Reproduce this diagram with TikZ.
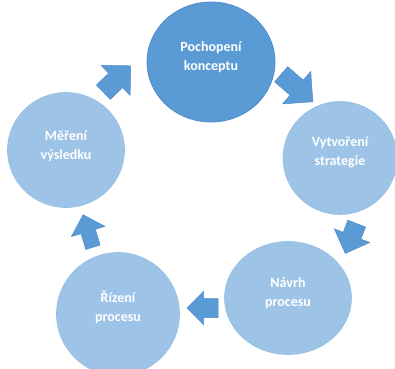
\documentclass[tikz,border=0pt]{standalone}
\usepackage{fontspec}
\setmainfont{Carlito}
\usetikzlibrary{shapes.geometric}

\definecolor{darkblue}{HTML}{5B9BD5}
\definecolor{darkrim}{HTML}{4F8CC9}
\definecolor{lightblue}{HTML}{9DC3E6}
\definecolor{lightrim}{HTML}{97BFE3}

\tikzset{
  stage/.style={ellipse, inner sep=0pt, fill=lightblue, draw=lightrim, line width=0.6pt},
  keystage/.style={stage, fill=darkblue, draw=darkrim, line width=0.8pt},
  caption/.style={text=white, align=center, font=\fontsize{14}{19}\selectfont\bfseries},
  flowarrow/.style={fill=darkblue, draw=darkrim, line width=0.5pt, line join=miter},
  % block arrow: length, shaft half-width, head half-width (head length = head half-width)
  pics/blockarrow/.style n args={3}{code={
    \path[flowarrow] (-#1/2,-#2) -- (#1/2-#3,-#2) -- (#1/2-#3,-#3) -- (#1/2,0)
      -- (#1/2-#3,#3) -- (#1/2-#3,#2) -- (-#1/2,#2) -- cycle;
  }}
}

\begin{document}
\begin{tikzpicture}[x=1pt,y=1pt]
\useasboundingbox (0,0) rectangle (395,368);
\clip (0,0) rectangle (395,368);

% stages of the cycle
\node[keystage, minimum width=128, minimum height=120] (A) at (211,306) {};
\node[stage, minimum width=114, minimum height=113] (B) at (340,210) {};
\node[stage, minimum width=127, minimum height=113] (C) at (288,70) {};
\node[stage, minimum width=123, minimum height=123] (D) at (118,54) {};
\node[stage, minimum width=117, minimum height=115] (E) at (66,218) {};

\node[caption] (At) at ([yshift=5]A.center) {Pochopení\\konceptu};
\node[caption] (Bt) at ([yshift=6]B.center) {Vytvoření\\strategie};
\node[caption] (Ct) at ([yshift=5]C.center) {Návrh\\procesu};
\node[caption] (Dt) at ([yshift=7]D.center) {Řízení\\procesu};
\node[caption] (Et) at ([yshift=4]E.center) {Měření\\výsledku};

% arrows between the stages
\pic[rotate=-41]   at (297,280)   {blockarrow={42}{10}{21.5}};
\pic[rotate=-111]  at (351,129.5) {blockarrow={32}{9.5}{19}};
\pic[rotate=180]   at (202.5,60)  {blockarrow={31}{9.5}{16.5}};
\pic[rotate=107]   at (88,137)    {blockarrow={34}{7.5}{17.5}};
\pic[rotate=44]    at (117,289)   {blockarrow={38}{10}{21}};
\end{tikzpicture}
\end{document}
